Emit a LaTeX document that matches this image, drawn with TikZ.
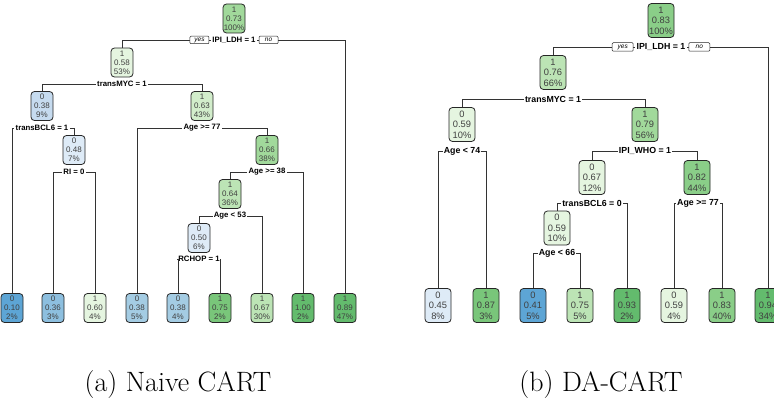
\documentclass[tikz,border=0pt]{standalone}
\usepackage{fontspec}
\usepackage{tikz}
\usetikzlibrary{positioning}
\newfontfamily\arialf{Liberation Sans}
\newcommand{\tri}[3]{#1\\#2\\#3}
\definecolor{bluea}{HTML}{5DA5D5}
\definecolor{blueb}{HTML}{8DBFDF}
\definecolor{bluec}{HTML}{A4CCE3}
\definecolor{blued}{HTML}{C6DBEF}
\definecolor{bluee}{HTML}{DEEBF7}
\definecolor{greena}{HTML}{E5F5E0}
\definecolor{greenb}{HTML}{D2EDCB}
\definecolor{greenc}{HTML}{BCE4B5}
\definecolor{greend}{HTML}{A1D99B}
\definecolor{greene}{HTML}{8ACE88}
\definecolor{greenf}{HTML}{79C67A}
\definecolor{greeng}{HTML}{63BB6D}

\begin{document}
\begin{tikzpicture}[x=1pt,y=-1pt,
    box/.style={draw=black!85,rounded corners=3.5pt,line width=0.8pt,align=center,inner sep=0pt,text=black!75},
    lbox/.style={box,minimum width=22pt,minimum height=29pt,font=\arialf\fontsize{8}{9.2}\selectfont},
    rbox/.style={box,minimum width=26pt,minimum height=34pt,font=\arialf\fontsize{9.3}{10.6}\selectfont},
    lsplit/.style={fill=white,inner sep=1pt,font=\arialf\bfseries\fontsize{7.8}{9}\selectfont},
    rsplit/.style={fill=white,inner sep=1pt,font=\arialf\bfseries\fontsize{8.8}{10}\selectfont},
    yn/.style={draw=black!85,fill=white,line width=0.5pt,rounded corners=1pt,inner sep=0pt,font=\arialf\itshape\fontsize{6.5}{6.5}\selectfont},
    lyn/.style={yn,minimum width=19pt,minimum height=7.5pt},
    ryn/.style={yn,minimum width=21pt,minimum height=8.5pt},
    conn/.style={draw=black!80,line width=0.8pt},
    capt/.style={anchor=base,font=\fontsize{28}{34}\selectfont}]
  \useasboundingbox (0,0) rectangle (774,404);
  % Naive CART
  \node[lbox,fill=greend] (r) at (234,18.5) {\tri{1}{0.73}{100\%}};
  \node[lbox,fill=greena] (a) at (122,62.5) {\tri{1}{0.58}{53\%}};
  \node[lbox,fill=blued] (aa) at (42,106) {\tri{0}{0.38}{9\%}};
  \node[lbox,fill=greenb] (ab) at (202,106) {\tri{1}{0.63}{43\%}};
  \node[lbox,fill=bluee] (aab) at (74,150) {\tri{0}{0.48}{7\%}};
  \node[lbox,fill=greend] (abb) at (267,150) {\tri{1}{0.66}{38\%}};
  \node[lbox,fill=greenc] (abba) at (230,194) {\tri{1}{0.64}{36\%}};
  \node[lbox,fill=bluee] (abbaa) at (199,238) {\tri{0}{0.50}{6\%}};
  \node[lbox,fill=bluea] (l1) at (12,308) {\tri{0}{0.10}{2\%}};
  \node[lbox,fill=blueb] (l2) at (53,308) {\tri{0}{0.36}{3\%}};
  \node[lbox,fill=greena] (l3) at (95,308) {\tri{1}{0.60}{4\%}};
  \node[lbox,fill=bluec] (l4) at (137,308) {\tri{0}{0.38}{5\%}};
  \node[lbox,fill=bluec] (l5) at (178,308) {\tri{0}{0.38}{4\%}};
  \node[lbox,fill=greenf] (l6) at (220,308) {\tri{1}{0.75}{2\%}};
  \node[lbox,fill=greenc] (l7) at (262,308) {\tri{1}{0.67}{30\%}};
  \node[lbox,fill=greeng] (l8) at (303,308) {\tri{1}{1.00}{2\%}};
  \node[lbox,fill=greeng] (l9) at (345,308) {\tri{1}{0.89}{47\%}};
  \node[lsplit] (sr) at (234,40) {IPI\_LDH = 1};
  \node[lsplit] (sa) at (122,84) {transMYC = 1};
  \node[lsplit] (saa) at (42,128) {transBCL6 = 1};
  \node[lsplit] (sab) at (202,128) {Age >= 77};
  \node[lsplit] (saab) at (74,172) {RI = 0};
  \node[lsplit] (sabb) at (267,172) {Age >= 38};
  \node[lsplit] (sabba) at (230,216) {Age < 53};
  \node[lsplit] (sabbaa) at (199,259) {RCHOP = 1};
  \draw[conn] (a.north) |- (sr.west) (l9.north) |- (sr.east);
  \draw[conn] (aa.north) |- (sa.west) (ab.north) |- (sa.east);
  \draw[conn] (l1.north) |- (saa.west) (aab.north) |- (saa.east);
  \draw[conn] (l4.north) |- (sab.west) (abb.north) |- (sab.east);
  \draw[conn] (l2.north) |- (saab.west) (l3.north) |- (saab.east);
  \draw[conn] (abba.north) |- (sabb.west) (l8.north) |- (sabb.east);
  \draw[conn] (abbaa.north) |- (sabba.west) (l7.north) |- (sabba.east);
  \draw[conn] (l5.north) |- (sabbaa.west) (l6.north) |- (sabbaa.east);
  \node[lyn,left=2pt of sr] (ly) {yes};
  \node[lyn,right=2pt of sr] (ln) {no};
  % DA-CART
  \node[rbox,fill=greene] (R) at (661,20.5) {\tri{1}{0.83}{100\%}};
  \node[rbox,fill=greenc] (A) at (553,72.5) {\tri{1}{0.76}{66\%}};
  \node[rbox,fill=greena] (AA) at (462,124.5) {\tri{0}{0.59}{10\%}};
  \node[rbox,fill=greend] (AB) at (645,124.5) {\tri{1}{0.79}{56\%}};
  \node[rbox,fill=greena] (ABA) at (592,177.5) {\tri{0}{0.67}{12\%}};
  \node[rbox,fill=greene] (ABB) at (697,177.5) {\tri{1}{0.82}{44\%}};
  \node[rbox,fill=greena] (ABAA) at (557,228) {\tri{0}{0.59}{10\%}};
  \node[rbox,fill=bluee] (L1) at (438,305.5) {\tri{0}{0.45}{8\%}};
  \node[rbox,fill=greenf] (L2) at (486,305.5) {\tri{1}{0.87}{3\%}};
  \node[rbox,fill=bluea] (L3) at (533,305.5) {\tri{0}{0.41}{5\%}};
  \node[rbox,fill=greenc] (L4) at (580,305.5) {\tri{1}{0.75}{5\%}};
  \node[rbox,fill=greeng] (L5) at (627,305.5) {\tri{1}{0.93}{2\%}};
  \node[rbox,fill=greena] (L6) at (674,305.5) {\tri{0}{0.59}{4\%}};
  \node[rbox,fill=greene] (L7) at (722,305.5) {\tri{1}{0.83}{40\%}};
  \node[rbox,fill=greeng] (L8) at (768,305.5) {\tri{1}{0.94}{34\%}};
  \node[rsplit] (SR) at (661,47) {IPI\_LDH = 1};
  \node[rsplit] (SA) at (553,99) {transMYC = 1};
  \node[rsplit] (SAA) at (462,151) {Age < 74};
  \node[rsplit] (SAB) at (645,151) {IPI\_WHO = 1};
  \node[rsplit] (SABA) at (592,203) {transBCL6 = 0};
  \node[rsplit] (SABB) at (698,203) {Age >= 77};
  \node[rsplit] (SABAA) at (557,253) {Age < 66};
  \draw[conn] (A.north) |- (SR.west) (L8.north) |- (SR.east);
  \draw[conn] (AA.north) |- (SA.west) (AB.north) |- (SA.east);
  \draw[conn] (L1.north) |- (SAA.west) (L2.north) |- (SAA.east);
  \draw[conn] (ABA.north) |- (SAB.west) (ABB.north) |- (SAB.east);
  \draw[conn] (ABAA.north) |- (SABA.west) (L5.north) |- (SABA.east);
  \draw[conn] (L6.north) |- (SABB.west) (L7.north) |- (SABB.east);
  \draw[conn] (L3.north) |- (SABAA.west) (L4.north) |- (SABAA.east);
  \node[ryn,left=2pt of SR] (RY) {yes};
  \node[ryn,right=2pt of SR] (RN) {no};
  \node[capt] (ca) at (178,391) {(a) Naive CART};
  \node[capt] (cb) at (601,391) {(b) DA-CART};
\end{tikzpicture}
\end{document}
